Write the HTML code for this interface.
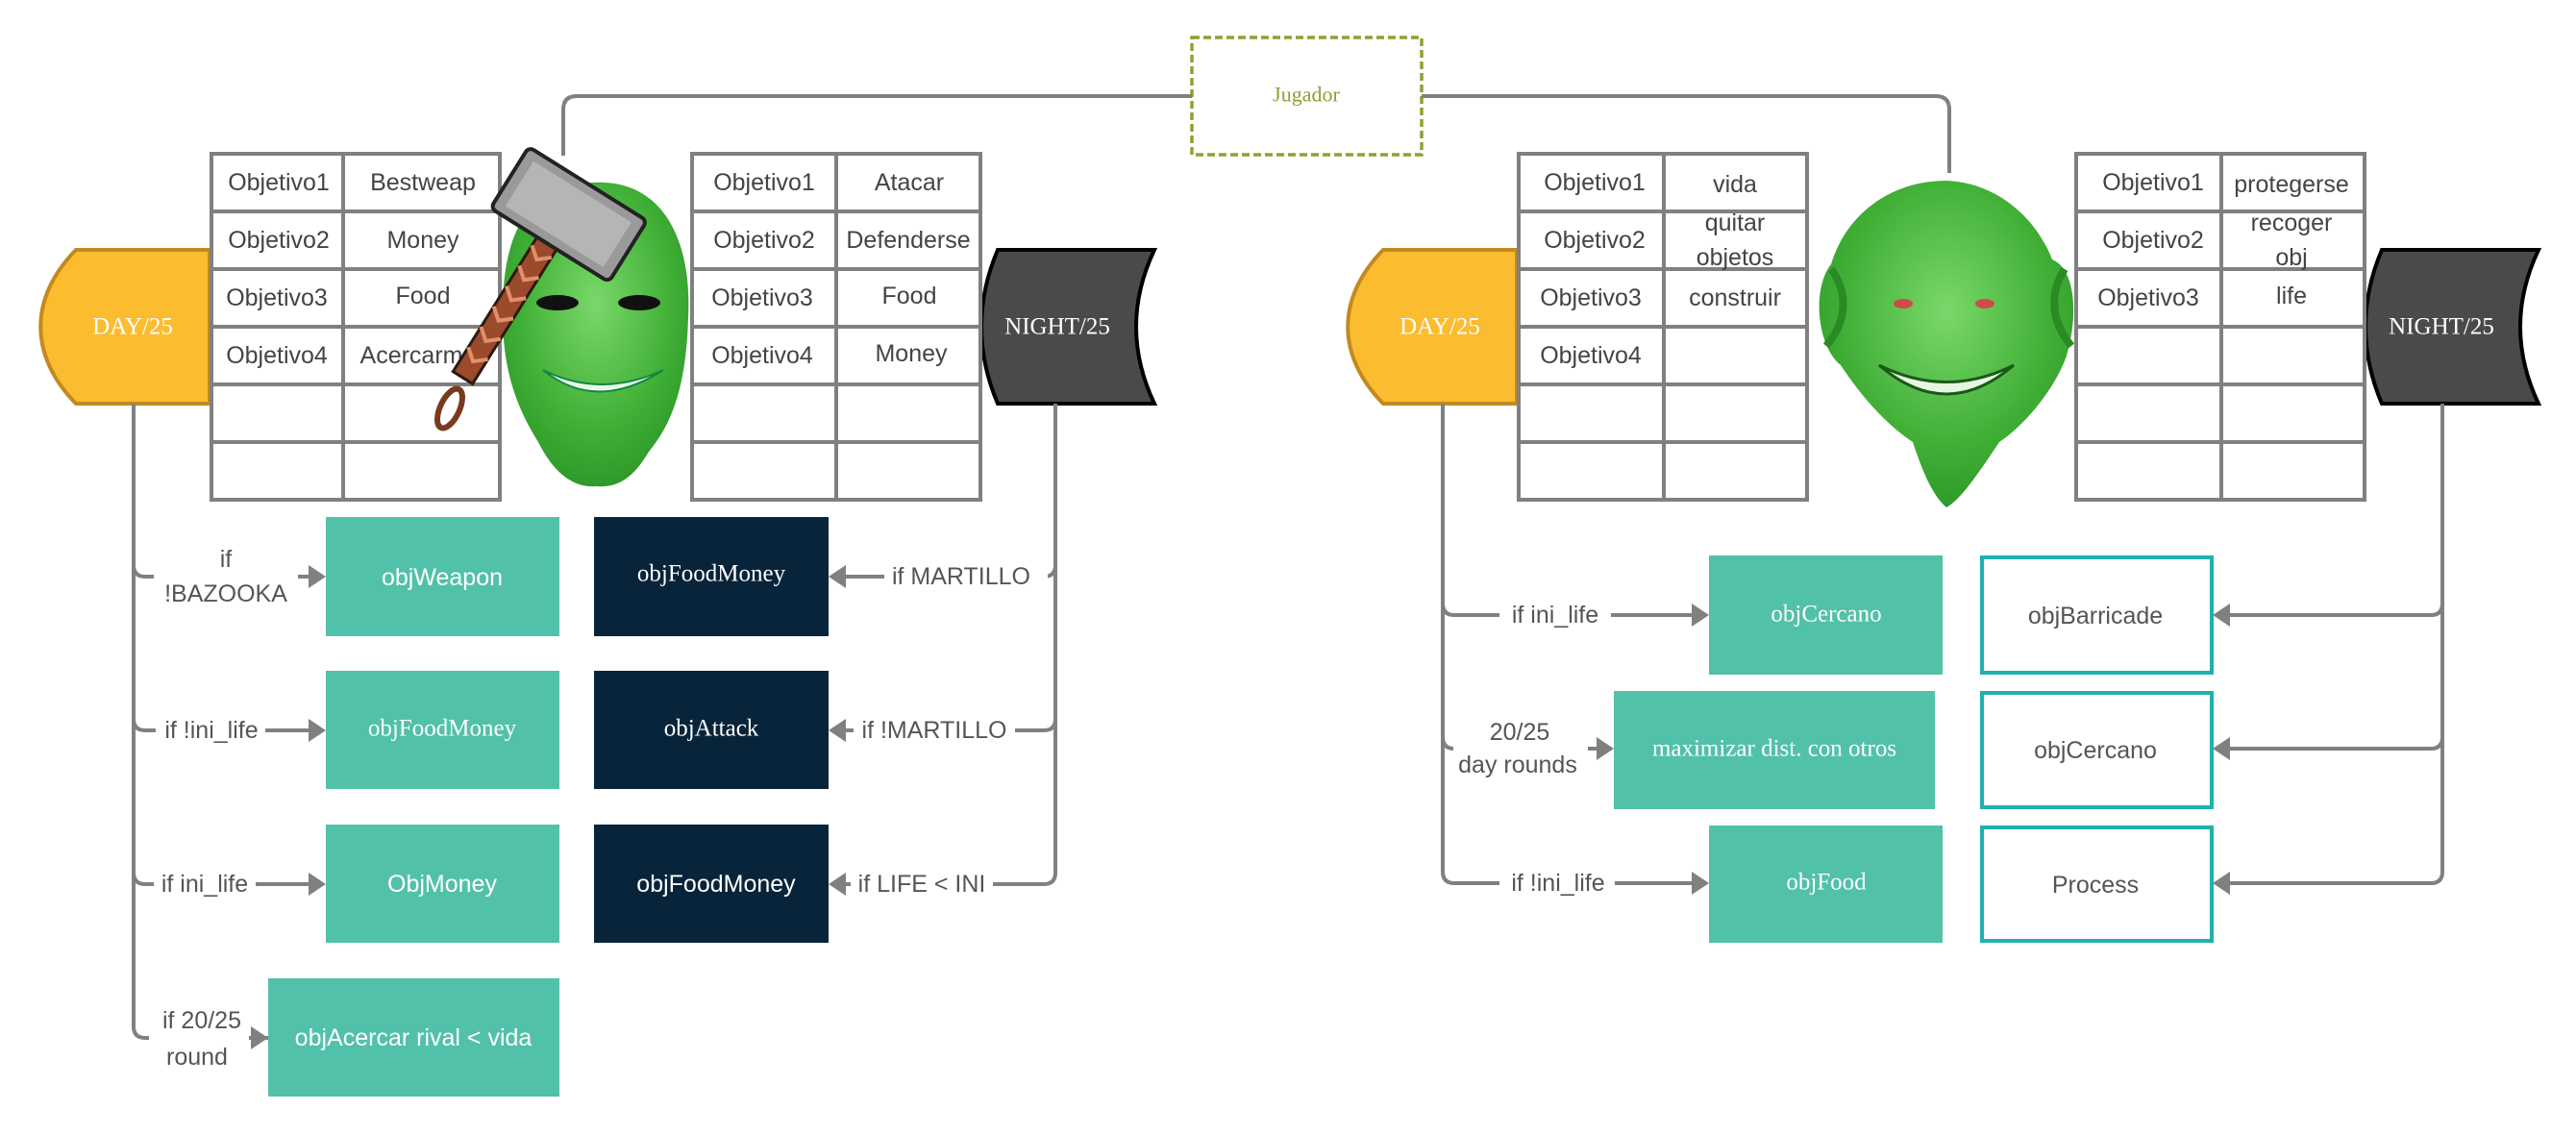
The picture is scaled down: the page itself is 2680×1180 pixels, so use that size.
<!DOCTYPE html>
<html><head><meta charset="utf-8"><style>
html,body{margin:0;padding:0;background:#fff;}
svg{display:block;}
.t{font-family:"Liberation Sans",sans-serif;font-size:25px;fill:#444;text-anchor:middle;dominant-baseline:central;}
.l{font-family:"Liberation Sans",sans-serif;font-size:25px;fill:#555;text-anchor:middle;dominant-baseline:central;}
.w{font-family:"Liberation Sans",sans-serif;font-size:25px;fill:#fff;text-anchor:middle;dominant-baseline:central;}
.s{font-family:"Liberation Serif",serif;font-size:25px;fill:#fff;text-anchor:middle;dominant-baseline:central;}
.g{font-family:"Liberation Sans",sans-serif;font-size:25px;fill:#555;text-anchor:middle;dominant-baseline:central;}
</style></head><body>
<svg width="2680" height="1180" viewBox="0 0 2680 1180" xmlns="http://www.w3.org/2000/svg">
<defs>
<radialGradient id="gm" cx="50%" cy="40%" r="60%"><stop offset="0" stop-color="#7ad86a"/><stop offset="0.7" stop-color="#3fae35"/><stop offset="1" stop-color="#2f9a2a"/></radialGradient>
<marker id="ah" markerWidth="10" markerHeight="10" refX="9" refY="5" orient="auto" markerUnits="userSpaceOnUse"></marker>
</defs>

<!-- Jugador -->
<rect x="1240" y="39" width="239" height="122" fill="#fff" stroke="#8fa033" stroke-width="3.5" stroke-dasharray="8,4"/>
<text x="1359" y="98" font-family="Liberation Serif,serif" font-size="22" fill="#8fa033" text-anchor="middle" dominant-baseline="central">Jugador</text>
<g fill="none" stroke="#808080" stroke-width="4">
<path d="M1240,100 H600 Q586,100 586,114 V162"/>
<path d="M1479,100 H2014 Q2028,100 2028,114 V180"/>
</g>

<!-- DAY shapes -->
<path d="M79,260 L218,260 L218,420 L79,420 C30,370 30,310 79,260 Z" fill="#fbbc30" stroke="#c28a1e" stroke-width="4"/>
<text x="138" y="340" class="s">DAY/25</text>
<path d="M1439,260 L1578,260 L1578,420 L1439,420 C1390,370 1390,310 1439,260 Z" fill="#fbbc30" stroke="#c28a1e" stroke-width="4"/>
<text x="1498" y="340" class="s">DAY/25</text>
<!-- NIGHT shapes -->
<path d="M1038,260 L1201,260 Q1163,340 1201,420 L1038,420 Q1004,340 1038,260 Z" fill="#4a4a4a" stroke="#000" stroke-width="4"/>
<text x="1100" y="340" class="s">NIGHT/25</text>
<path d="M2478,260 L2641,260 Q2603,340 2641,420 L2478,420 Q2444,340 2478,260 Z" fill="#4a4a4a" stroke="#000" stroke-width="4"/>
<text x="2540" y="340" class="s">NIGHT/25</text>

<!-- Tables -->
<g fill="#fff" stroke="#808080" stroke-width="4">
<rect x="220" y="160" width="300" height="360"/>
<rect x="720" y="160" width="300" height="360"/>
<rect x="1580" y="160" width="300" height="360"/>
<rect x="2160" y="160" width="300" height="360"/>
</g>
<g stroke="#808080" stroke-width="4">
<line x1="357" y1="160" x2="357" y2="520"/><line x1="870" y1="160" x2="870" y2="520"/>
<line x1="1731" y1="160" x2="1731" y2="520"/><line x1="2311" y1="160" x2="2311" y2="520"/>
<path d="M220,220H520M220,280H520M220,340H520M220,400H520M220,460H520"/>
<path d="M720,220H1020M720,280H1020M720,340H1020M720,400H1020M720,460H1020"/>
<path d="M1580,220H1880M1580,280H1880M1580,340H1880M1580,400H1880M1580,460H1880"/>
<path d="M2160,220H2460M2160,280H2460M2160,340H2460M2160,400H2460M2160,460H2460"/>
</g>
<g class="t">
<text x="290" y="190" class="t">Objetivo1</text><text x="440" y="190" class="t">Bestweap</text>
<text x="290" y="250" class="t">Objetivo2</text><text x="440" y="250" class="t">Money</text>
<text x="288" y="310" class="t">Objetivo3</text><text x="440" y="308" class="t">Food</text>
<text x="288" y="370" class="t">Objetivo4</text><text x="428" y="370" class="t">Acercarm</text>
<text x="795" y="190" class="t">Objetivo1</text><text x="946" y="190" class="t">Atacar</text>
<text x="795" y="250" class="t">Objetivo2</text><text x="945" y="250" class="t">Defenderse</text>
<text x="793" y="310" class="t">Objetivo3</text><text x="946" y="308" class="t">Food</text>
<text x="793" y="370" class="t">Objetivo4</text><text x="948" y="368" class="t">Money</text>
<text x="1659" y="190" class="t">Objetivo1</text><text x="1805" y="192" class="t">vida</text>
<text x="1659" y="250" class="t">Objetivo2</text><text x="1805" y="232" class="t">quitar</text><text x="1805" y="268" class="t">objetos</text>
<text x="1655" y="310" class="t">Objetivo3</text><text x="1805" y="310" class="t">construir</text>
<text x="1655" y="370" class="t">Objetivo4</text>
<text x="2240" y="190" class="t">Objetivo1</text><text x="2384" y="192" class="t">protegerse</text>
<text x="2240" y="250" class="t">Objetivo2</text><text x="2384" y="232" class="t">recoger</text><text x="2384" y="268" class="t">obj</text>
<text x="2235" y="310" class="t">Objetivo3</text><text x="2384" y="308" class="t">life</text>
</g>

<!-- Mask 1 -->
<path d="M615,190 C690,185 720,250 716,330 C714,400 700,440 675,470 C660,495 645,508 620,506 C595,508 575,490 560,460 C535,420 522,380 523,320 C524,240 550,195 615,190 Z" fill="url(#gm)"/>
<ellipse cx="580" cy="315" rx="22" ry="8" fill="#111"/>
<ellipse cx="665" cy="315" rx="22" ry="8" fill="#111"/>
<path d="M565,385 Q620,430 690,385 Q625,415 565,385 Z" fill="#eafbe5" stroke="#184" stroke-width="2"/>
<!-- hammer -->
<g transform="rotate(32 590 225)">
<rect x="575" y="255" width="24" height="170" fill="#9b4a2c" stroke="#2a1a10" stroke-width="3"/>
<path d="M575,270 l12,10 l12,-10 M575,295 l12,10 l12,-10 M575,320 l12,10 l12,-10 M575,345 l12,10 l12,-10 M575,370 l12,10 l12,-10 M575,395 l12,10 l12,-10" stroke="#e0906a" stroke-width="4" fill="none"/>
<rect x="518" y="185" width="145" height="75" rx="6" fill="#9a9a9a" stroke="#222" stroke-width="4"/>
<rect x="530" y="195" width="120" height="55" fill="#b5b5b5"/>
</g>
<ellipse cx="468" cy="425" rx="10" ry="22" transform="rotate(25 468 425)" fill="none" stroke="#7a3a20" stroke-width="6"/>

<!-- Mask 2 -->
<path d="M2025,188 C2080,190 2120,230 2135,270 C2160,280 2162,330 2150,370 C2140,400 2110,440 2080,460 C2060,490 2040,520 2025,528 C2010,515 2000,490 1990,460 C1960,440 1935,410 1915,380 C1890,360 1885,300 1905,275 C1920,225 1965,188 2025,188 Z" fill="url(#gm)"/>
<path d="M1905,280 C1920,300 1925,330 1900,360 M2148,280 C2135,300 2130,330 2155,360" stroke="#2a8a25" stroke-width="8" fill="none"/>
<ellipse cx="1980" cy="316" rx="10" ry="5" fill="#d14a4a"/>
<ellipse cx="2065" cy="316" rx="10" ry="5" fill="#d14a4a"/>
<path d="M1955,380 Q2025,440 2095,380 Q2025,415 1955,380 Z" fill="#e6f7e0" stroke="#1a5a18" stroke-width="3"/>

<!-- Connectors -->
<g fill="none" stroke="#808080" stroke-width="4">
<path d="M139,420 V1068 Q139,1080 151,1080 H325"/>
<path d="M139,588 Q139,600 151,600 H325"/>
<path d="M139,748 Q139,760 151,760 H325"/>
<path d="M139,908 Q139,920 151,920 H325"/>
<path d="M1098,420 V908 Q1098,920 1086,920 H876"/>
<path d="M1098,588 Q1098,600 1086,600 H876"/>
<path d="M1098,748 Q1098,760 1086,760 H876"/>
<path d="M1501,420 V907 Q1501,919 1513,919 H1765"/>
<path d="M1501,628 Q1501,640 1513,640 H1765"/>
<path d="M1501,767 Q1501,779 1513,779 H1666"/>
<path d="M2541,420 V907 Q2541,919 2529,919 H2316"/>
<path d="M2541,628 Q2541,640 2529,640 H2316"/>
<path d="M2541,767 Q2541,779 2529,779 H2316"/>
</g>
<g fill="#808080">
<path d="M321,588 L339,600 L321,612 Z"/><path d="M321,748 L339,760 L321,772 Z"/><path d="M321,908 L339,920 L321,932 Z"/><path d="M261,1068 L279,1080 L261,1092 Z"/>
<path d="M880,588 L862,600 L880,612 Z"/><path d="M880,748 L862,760 L880,772 Z"/><path d="M880,908 L862,920 L880,932 Z"/>
<path d="M1760,628 L1778,640 L1760,652 Z"/><path d="M1661,767 L1679,779 L1661,791 Z"/><path d="M1760,907 L1778,919 L1760,931 Z"/>
<path d="M2320,628 L2302,640 L2320,652 Z"/><path d="M2320,767 L2302,779 L2320,791 Z"/><path d="M2320,907 L2302,919 L2320,931 Z"/>
</g>
<!-- label backgrounds -->
<g fill="#fff">
<rect x="160" y="565" width="150" height="70"/><rect x="162" y="742" width="114" height="36"/><rect x="160" y="902" width="106" height="36"/><rect x="155" y="1040" width="104" height="80"/>
<rect x="920" y="582" width="170" height="36"/><rect x="888" y="742" width="168" height="36"/><rect x="885" y="902" width="148" height="36"/>
<rect x="1560" y="622" width="116" height="36"/><rect x="1512" y="740" width="140" height="80"/><rect x="1560" y="901" width="120" height="36"/>
</g>
<g>
<text x="235" y="582" class="l">if</text><text x="235" y="618" class="l">!BAZOOKA</text>
<text x="220" y="760" class="l">if !ini_life</text>
<text x="213" y="920" class="l">if ini_life</text>
<text x="210" y="1062" class="l">if 20/25</text><text x="205" y="1100" class="l">round</text>
<text x="1000" y="600" class="l">if MARTILLO</text>
<text x="972" y="760" class="l">if !MARTILLO</text>
<text x="959" y="920" class="l">if LIFE &lt; INI</text>
<text x="1618" y="640" class="l">if ini_life</text>
<text x="1581" y="762" class="l">20/25</text><text x="1579" y="796" class="l">day rounds</text>
<text x="1621" y="919" class="l">if !ini_life</text>
</g>

<!-- Boxes left -->
<rect x="339" y="538" width="243" height="124" fill="#52c1a9"/><text x="460" y="601" class="w">objWeapon</text>
<rect x="339" y="698" width="243" height="123" fill="#52c1a9"/><text x="460" y="758" class="s">objFoodMoney</text>
<rect x="339" y="858" width="243" height="123" fill="#52c1a9"/><text x="460" y="920" class="w">ObjMoney</text>
<rect x="279" y="1018" width="303" height="123" fill="#52c1a9"/><text x="430" y="1080" class="w">objAcercar rival &lt; vida</text>
<rect x="618" y="538" width="244" height="124" fill="#08243a"/><text x="740" y="597" class="s" font-size="23">objFoodMoney</text>
<rect x="618" y="698" width="244" height="123" fill="#08243a"/><text x="740" y="758" class="s">objAttack</text>
<rect x="618" y="858" width="244" height="123" fill="#08243a"/><text x="745" y="920" class="w">objFoodMoney</text>

<!-- Boxes right -->
<rect x="1778" y="578" width="243" height="124" fill="#52c1a9"/><text x="1900" y="639" class="s">objCercano</text>
<rect x="1679" y="719" width="334" height="123" fill="#52c1a9"/><text x="1846" y="779" class="s" font-size="24">maximizar dist. con otros</text>
<rect x="1778" y="859" width="243" height="122" fill="#52c1a9"/><text x="1900" y="918" class="s">objFood</text>
<g fill="#fff" stroke="#20b0ae" stroke-width="4">
<rect x="2062" y="580" width="239" height="120"/><rect x="2062" y="721" width="239" height="119"/><rect x="2062" y="861" width="239" height="118"/>
</g>
<text x="2180" y="641" class="g">objBarricade</text>
<text x="2180" y="781" class="g">objCercano</text>
<text x="2180" y="921" class="g">Process</text>
</svg>
</body></html>
